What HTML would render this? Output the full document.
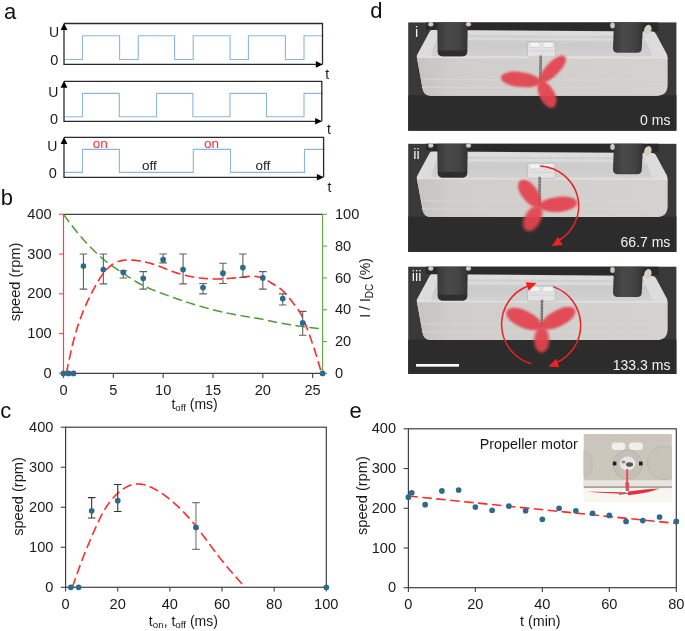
<!DOCTYPE html>
<html><head><meta charset="utf-8"><style>
html,body{margin:0;padding:0;background:#fff;}
svg{display:block;will-change:transform;}
text{font-family:"Liberation Sans",sans-serif;}
</style></head><body>
<svg width="685" height="631" viewBox="0 0 685 631">
<defs><clipPath id="insclip"><rect x="583.5" y="434.1" width="88.4" height="68.4"/></clipPath><linearGradient id="rod" x1="0" y1="0" x2="1" y2="0"><stop offset="0" stop-color="#383838"/><stop offset="0.35" stop-color="#494949"/><stop offset="0.7" stop-color="#444"/><stop offset="1" stop-color="#333"/></linearGradient><linearGradient id="cav" x1="0" y1="0" x2="0" y2="1"><stop offset="0" stop-color="#d0d0d0"/><stop offset="0.5" stop-color="#cbcbcb"/><stop offset="1" stop-color="#d2d2d2"/></linearGradient><linearGradient id="face" x1="0" y1="0" x2="1" y2="0"><stop offset="0" stop-color="#c6c4c0"/><stop offset="0.15" stop-color="#d0cecb"/><stop offset="1" stop-color="#d3d2cf"/></linearGradient><filter id="pblur" x="-20%" y="-20%" width="140%" height="140%"><feGaussianBlur stdDeviation="0.9"/></filter>
<filter id="pblur2" x="-30%" y="-30%" width="160%" height="160%"><feGaussianBlur stdDeviation="1.1"/></filter><filter id="pblur3" x="-30%" y="-30%" width="160%" height="160%"><feGaussianBlur stdDeviation="1.8"/></filter><filter id="soft" x="-5%" y="-5%" width="110%" height="110%"><feGaussianBlur stdDeviation="0.6"/></filter></defs>
<rect width="685" height="631" fill="#fff"/>
<text x="4" y="18.6" font-size="22" text-anchor="start" fill="#111" >a</text>
<text x="0.8" y="204.6" font-size="22" text-anchor="start" fill="#111" >b</text>
<text x="0.2" y="418" font-size="22" text-anchor="start" fill="#111" >c</text>
<text x="370.3" y="18.1" font-size="22" text-anchor="start" fill="#111" >d</text>
<text x="349.5" y="418" font-size="22" text-anchor="start" fill="#111" >e</text>
<path d="M64.50,59.50 L82.50,59.50 L82.50,35.80 L119.60,35.80 L119.60,59.50 L138.30,59.50 L138.30,35.80 L174.60,35.80 L174.60,59.50 L193.20,59.50 L193.20,35.80 L230.10,35.80 L230.10,59.50 L248.40,59.50 L248.40,35.80 L285.40,35.80 L285.40,59.50 L304.00,59.50 L304.00,35.80 L323.30,35.80" fill="none" stroke="#8ab6e0" stroke-width="1.1"/>
<path d="M64,23.5 H322.5 V64.4" fill="none" stroke="#2a2a2a" stroke-width="1.3"/>
<path d="M64,29.5 V64.4 H316.5" fill="none" stroke="#2a2a2a" stroke-width="1.3"/>
<path d="M64,23.0 L67.4,30.0 L60.6,30.0 Z" fill="#000"/>
<path d="M322.8,64.4 L315.8,61.10000000000001 L315.8,67.7 Z" fill="#000"/>
<text x="59.0" y="36.8" font-size="14" text-anchor="end" fill="#1a1a1a" >U</text>
<text x="58.4" y="64.8" font-size="14.5" text-anchor="end" fill="#1a1a1a" >0</text>
<text x="325.3" y="78.8" font-size="14" text-anchor="start" fill="#1a1a1a" >t</text>
<path d="M64.50,116.80 L82.50,116.80 L82.50,93.40 L119.30,93.40 L119.30,116.80 L156.50,116.80 L156.50,93.40 L192.90,93.40 L192.90,116.80 L230.00,116.80 L230.00,93.40 L266.50,93.40 L266.50,116.80 L304.00,116.80 L304.00,93.40 L322.60,93.40" fill="none" stroke="#8ab6e0" stroke-width="1.1"/>
<path d="M64,81.3 H321.8 V121.3" fill="none" stroke="#2a2a2a" stroke-width="1.3"/>
<path d="M64,87.3 V121.3 H315.8" fill="none" stroke="#2a2a2a" stroke-width="1.3"/>
<path d="M64,80.8 L67.4,87.8 L60.6,87.8 Z" fill="#000"/>
<path d="M322.1,121.3 L315.1,118.0 L315.1,124.6 Z" fill="#000"/>
<text x="58.3" y="96.5" font-size="14" text-anchor="end" fill="#1a1a1a" >U</text>
<text x="58.0" y="123.8" font-size="14.5" text-anchor="end" fill="#1a1a1a" >0</text>
<text x="326.9" y="134.0" font-size="14" text-anchor="start" fill="#1a1a1a" >t</text>
<path d="M64.50,172.40 L82.50,172.40 L82.50,149.40 L119.40,149.40 L119.40,172.40 L193.30,172.40 L193.30,149.40 L230.50,149.40 L230.50,172.40 L304.50,172.40 L304.50,149.40 L324.40,149.40" fill="none" stroke="#8ab6e0" stroke-width="1.1"/>
<path d="M64,137.4 H323.6 V177.3" fill="none" stroke="#2a2a2a" stroke-width="1.3"/>
<path d="M64,143.4 V177.3 H317.6" fill="none" stroke="#2a2a2a" stroke-width="1.3"/>
<path d="M64,136.9 L67.4,143.9 L60.6,143.9 Z" fill="#000"/>
<path d="M323.90000000000003,177.3 L316.90000000000003,174.0 L316.90000000000003,180.60000000000002 Z" fill="#000"/>
<text x="57.3" y="150.6" font-size="14" text-anchor="end" fill="#1a1a1a" >U</text>
<text x="56.9" y="178.2" font-size="14.5" text-anchor="end" fill="#1a1a1a" >0</text>
<text x="327.6" y="191.7" font-size="14" text-anchor="start" fill="#1a1a1a" >t</text>
<text x="100.3" y="147.7" font-size="13.5" text-anchor="middle" fill="#ff2a2a" >on</text>
<text x="211.5" y="147.7" font-size="13.5" text-anchor="middle" fill="#ff2a2a" >on</text>
<text x="149.5" y="170" font-size="13.5" text-anchor="middle" fill="#1a1a1a" >off</text>
<text x="263" y="170" font-size="13.5" text-anchor="middle" fill="#1a1a1a" >off</text>
<path d="M63.5,214.3 H322.6" stroke="#404040" stroke-width="1.2" fill="none"/>
<path d="M63.5,373.4 H322.6" stroke="#404040" stroke-width="1.2" fill="none"/>
<path d="M63.50,373.4 V377.9" stroke="#404040" stroke-width="1.1"/>
<text x="63.50" y="394.7" font-size="14.6" text-anchor="middle" fill="#1a1a1a" >0</text>
<path d="M113.33,373.4 V377.9" stroke="#404040" stroke-width="1.1"/>
<text x="113.33" y="394.7" font-size="14.6" text-anchor="middle" fill="#1a1a1a" >5</text>
<path d="M163.15,373.4 V377.9" stroke="#404040" stroke-width="1.1"/>
<text x="163.15" y="394.7" font-size="14.6" text-anchor="middle" fill="#1a1a1a" >10</text>
<path d="M212.98,373.4 V377.9" stroke="#404040" stroke-width="1.1"/>
<text x="212.98" y="394.7" font-size="14.6" text-anchor="middle" fill="#1a1a1a" >15</text>
<path d="M262.81,373.4 V377.9" stroke="#404040" stroke-width="1.1"/>
<text x="262.81" y="394.7" font-size="14.6" text-anchor="middle" fill="#1a1a1a" >20</text>
<path d="M312.63,373.4 V377.9" stroke="#404040" stroke-width="1.1"/>
<text x="312.63" y="394.7" font-size="14.6" text-anchor="middle" fill="#1a1a1a" >25</text>
<path d="M63.5,214.3 V373.4" stroke="#ff4040" stroke-width="1.2" fill="none"/>
<path d="M59.0,373.40 H63.5" stroke="#ff4040" stroke-width="1.1"/>
<text x="51.7" y="378.00" font-size="14.6" text-anchor="end" fill="#1a1a1a" >0</text>
<path d="M59.0,333.62 H63.5" stroke="#ff4040" stroke-width="1.1"/>
<text x="51.7" y="338.23" font-size="14.6" text-anchor="end" fill="#1a1a1a" >100</text>
<path d="M59.0,293.85 H63.5" stroke="#ff4040" stroke-width="1.1"/>
<text x="51.7" y="298.45" font-size="14.6" text-anchor="end" fill="#1a1a1a" >200</text>
<path d="M59.0,254.07 H63.5" stroke="#ff4040" stroke-width="1.1"/>
<text x="51.7" y="258.68" font-size="14.6" text-anchor="end" fill="#1a1a1a" >300</text>
<path d="M59.0,214.30 H63.5" stroke="#ff4040" stroke-width="1.1"/>
<text x="51.7" y="218.90" font-size="14.6" text-anchor="end" fill="#1a1a1a" >400</text>
<path d="M322.6,214.3 V373.4" stroke="#6aa84f" stroke-width="1.2" fill="none"/>
<path d="M322.6,373.40 H327.1" stroke="#6aa84f" stroke-width="1.1"/>
<text x="335.0" y="378.00" font-size="14.6" text-anchor="start" fill="#1a1a1a" >0</text>
<path d="M322.6,341.58 H327.1" stroke="#6aa84f" stroke-width="1.1"/>
<text x="335.0" y="346.18" font-size="14.6" text-anchor="start" fill="#1a1a1a" >20</text>
<path d="M322.6,309.76 H327.1" stroke="#6aa84f" stroke-width="1.1"/>
<text x="335.0" y="314.36" font-size="14.6" text-anchor="start" fill="#1a1a1a" >40</text>
<path d="M322.6,277.94 H327.1" stroke="#6aa84f" stroke-width="1.1"/>
<text x="335.0" y="282.54" font-size="14.6" text-anchor="start" fill="#1a1a1a" >60</text>
<path d="M322.6,246.12 H327.1" stroke="#6aa84f" stroke-width="1.1"/>
<text x="335.0" y="250.72" font-size="14.6" text-anchor="start" fill="#1a1a1a" >80</text>
<path d="M322.6,214.30 H327.1" stroke="#6aa84f" stroke-width="1.1"/>
<text x="335.0" y="218.90" font-size="14.6" text-anchor="start" fill="#1a1a1a" >100</text>
<text transform="translate(19.9,282) rotate(-90)" font-size="14.6" text-anchor="middle" fill="#1a1a1a">speed (rpm)</text>
<text transform="translate(370,287.9) rotate(-90)" font-size="14" text-anchor="middle" fill="#1a1a1a">I / I<tspan font-size="10" dy="3">DC</tspan><tspan dy="-3"> (%)</tspan></text>
<text x="194.6" y="408.8" font-size="14" text-anchor="middle" fill="#1a1a1a">t<tspan font-size="9.6" dy="2.6">off</tspan><tspan dy="-2.6"> (ms)</tspan></text>
<path d="M63.50,214.30 L65.68,217.33 L67.85,220.30 L70.03,223.20 L72.21,226.03 L74.39,228.80 L76.56,231.51 L78.74,234.15 L80.92,236.72 L83.10,239.22 L85.27,241.66 L87.45,244.03 L89.63,246.33 L91.81,248.56 L93.98,250.72 L96.16,252.82 L98.34,254.84 L100.51,256.80 L102.69,258.68 L104.87,260.48 L107.05,262.19 L109.22,263.82 L111.40,265.40 L113.58,266.92 L115.76,268.40 L117.93,269.86 L120.11,271.29 L122.29,272.72 L124.46,274.15 L126.64,275.59 L128.82,277.03 L131.00,278.44 L133.17,279.84 L135.35,281.19 L137.53,282.50 L139.71,283.74 L141.88,284.92 L144.06,286.01 L146.24,287.04 L148.42,288.03 L150.59,288.97 L152.77,289.88 L154.95,290.76 L157.12,291.61 L159.30,292.44 L161.48,293.25 L163.66,294.05 L165.83,294.84 L168.01,295.63 L170.19,296.42 L172.37,297.20 L174.54,297.98 L176.72,298.74 L178.90,299.49 L181.07,300.24 L183.25,300.97 L185.43,301.69 L187.61,302.40 L189.78,303.09 L191.96,303.78 L194.14,304.45 L196.32,305.11 L198.49,305.76 L200.67,306.40 L202.85,307.03 L205.03,307.64 L207.20,308.25 L209.38,308.83 L211.56,309.40 L213.73,309.95 L215.91,310.48 L218.09,310.99 L220.27,311.49 L222.44,311.97 L224.62,312.45 L226.80,312.91 L228.98,313.36 L231.15,313.80 L233.33,314.24 L235.51,314.66 L237.68,315.08 L239.86,315.48 L242.04,315.88 L244.22,316.25 L246.39,316.61 L248.57,316.95 L250.75,317.30 L252.93,317.64 L255.10,317.98 L257.28,318.34 L259.46,318.70 L261.64,319.09 L263.81,319.50 L265.99,319.95 L268.17,320.43 L270.34,320.92 L272.52,321.42 L274.70,321.91 L276.88,322.38 L279.05,322.82 L281.23,323.21 L283.41,323.58 L285.59,323.94 L287.76,324.31 L289.94,324.66 L292.12,325.01 L294.29,325.35 L296.47,325.69 L298.65,326.01 L300.83,326.33 L303.00,326.63 L305.18,326.93 L307.36,327.22 L309.54,327.49 L311.71,327.75 L313.89,328.00 L316.07,328.24 L318.25,328.46 L320.42,328.66 L322.60,328.85" fill="none" stroke="#4f9a36" stroke-width="1.5" stroke-dasharray="9.5 4.5"/>
<path d="M66.30,373.40 L67.58,367.20 L68.86,361.07 L70.14,355.11 L71.43,349.38 L72.71,343.97 L73.99,338.94 L75.27,334.26 L76.55,329.92 L77.83,325.86 L79.11,322.05 L80.40,318.46 L81.68,315.05 L82.96,311.80 L84.24,308.69 L85.52,305.72 L86.80,302.86 L88.08,300.11 L89.37,297.46 L90.65,294.90 L91.93,292.40 L93.21,289.97 L94.49,287.59 L95.77,285.26 L97.05,282.99 L98.34,280.80 L99.62,278.71 L100.90,276.72 L102.18,274.86 L103.46,273.13 L104.74,271.54 L106.02,270.06 L107.31,268.71 L108.59,267.48 L109.87,266.35 L111.15,265.34 L112.43,264.43 L113.71,263.63 L114.99,262.92 L116.27,262.30 L117.56,261.76 L118.84,261.31 L120.12,260.93 L121.40,260.62 L122.68,260.38 L123.96,260.20 L125.24,260.07 L126.53,259.99 L127.81,259.96 L129.09,259.97 L130.37,260.01 L131.65,260.08 L132.93,260.17 L134.21,260.28 L135.50,260.41 L136.78,260.56 L138.06,260.73 L139.34,260.91 L140.62,261.12 L141.90,261.34 L143.18,261.58 L144.47,261.85 L145.75,262.13 L147.03,262.43 L148.31,262.76 L149.59,263.10 L150.87,263.47 L152.15,263.86 L153.44,264.27 L154.72,264.70 L156.00,265.15 L157.28,265.62 L158.56,266.09 L159.84,266.58 L161.12,267.08 L162.41,267.59 L163.69,268.10 L164.97,268.61 L166.25,269.12 L167.53,269.62 L168.81,270.12 L170.09,270.61 L171.38,271.10 L172.66,271.56 L173.94,272.02 L175.22,272.46 L176.50,272.88 L177.78,273.28 L179.06,273.67 L180.35,274.04 L181.63,274.40 L182.91,274.74 L184.19,275.06 L185.47,275.38 L186.75,275.67 L188.03,275.96 L189.32,276.23 L190.60,276.48 L191.88,276.73 L193.16,276.96 L194.44,277.17 L195.72,277.38 L197.00,277.57 L198.28,277.75 L199.57,277.92 L200.85,278.07 L202.13,278.22 L203.41,278.35 L204.69,278.47 L205.97,278.57 L207.25,278.66 L208.54,278.74 L209.82,278.81 L211.10,278.87 L212.38,278.91 L213.66,278.94 L214.94,278.95 L216.22,278.96 L217.51,278.95 L218.79,278.94 L220.07,278.91 L221.35,278.87 L222.63,278.82 L223.91,278.76 L225.19,278.69 L226.48,278.61 L227.76,278.52 L229.04,278.42 L230.32,278.31 L231.60,278.20 L232.88,278.08 L234.16,277.96 L235.45,277.83 L236.73,277.69 L238.01,277.55 L239.29,277.41 L240.57,277.27 L241.85,277.13 L243.13,276.98 L244.42,276.84 L245.70,276.71 L246.98,276.58 L248.26,276.48 L249.54,276.39 L250.82,276.34 L252.10,276.32 L253.39,276.34 L254.67,276.40 L255.95,276.51 L257.23,276.68 L258.51,276.91 L259.79,277.21 L261.07,277.57 L262.36,278.02 L263.64,278.55 L264.92,279.16 L266.20,279.84 L267.48,280.57 L268.76,281.34 L270.04,282.14 L271.33,282.95 L272.61,283.76 L273.89,284.55 L275.17,285.33 L276.45,286.12 L277.73,286.94 L279.01,287.80 L280.29,288.74 L281.58,289.76 L282.86,290.88 L284.14,292.13 L285.42,293.49 L286.70,294.94 L287.98,296.47 L289.26,298.07 L290.55,299.70 L291.83,301.35 L293.11,303.00 L294.39,304.64 L295.67,306.29 L296.95,308.00 L298.23,309.82 L299.52,311.81 L300.80,314.00 L302.08,316.46 L303.36,319.20 L304.64,322.20 L305.92,325.40 L307.20,328.77 L308.49,332.26 L309.77,335.84 L311.05,339.47 L312.33,343.17 L313.61,346.95 L314.89,350.86 L316.17,354.92 L317.46,359.15 L318.74,363.52 L320.02,367.99 L321.30,372.50" fill="none" stroke="#ff2a2a" stroke-width="1.6" stroke-dasharray="9.5 4.5"/>
<path d="M83.43,254.07 V289.08 M79.63,254.07 H87.23 M79.63,289.08 H87.23" stroke="#606060" stroke-width="1.1" fill="none"/>
<path d="M103.36,254.07 V283.91 M99.56,254.07 H107.16 M99.56,283.91 H107.16" stroke="#606060" stroke-width="1.1" fill="none"/>
<path d="M123.29,270.78 V277.94 M119.49,270.78 H127.09 M119.49,277.94 H127.09" stroke="#606060" stroke-width="1.1" fill="none"/>
<path d="M143.22,271.58 V289.08 M139.42,271.58 H147.02 M139.42,289.08 H147.02" stroke="#606060" stroke-width="1.1" fill="none"/>
<path d="M163.15,254.07 V262.83 M159.35,254.07 H166.95 M159.35,262.83 H166.95" stroke="#606060" stroke-width="1.1" fill="none"/>
<path d="M183.08,254.07 V283.91 M179.28,254.07 H186.88 M179.28,283.91 H186.88" stroke="#606060" stroke-width="1.1" fill="none"/>
<path d="M203.02,283.51 V293.85 M199.22,283.51 H206.82 M199.22,293.85 H206.82" stroke="#606060" stroke-width="1.1" fill="none"/>
<path d="M222.95,263.22 V283.51 M219.15,263.22 H226.75 M219.15,283.51 H226.75" stroke="#606060" stroke-width="1.1" fill="none"/>
<path d="M242.88,254.07 V277.54 M239.08,254.07 H246.68 M239.08,277.54 H246.68" stroke="#606060" stroke-width="1.1" fill="none"/>
<path d="M262.81,271.58 V289.08 M259.01,271.58 H266.61 M259.01,289.08 H266.61" stroke="#606060" stroke-width="1.1" fill="none"/>
<path d="M282.74,293.85 V304.99 M278.94,293.85 H286.54 M278.94,304.99 H286.54" stroke="#606060" stroke-width="1.1" fill="none"/>
<path d="M302.67,311.35 V335.22 M298.87,311.35 H306.47 M298.87,335.22 H306.47" stroke="#606060" stroke-width="1.1" fill="none"/>
<circle cx="63.50" cy="373.40" r="2.85" fill="#2d6a8c"/>
<circle cx="68.48" cy="373.40" r="2.85" fill="#2d6a8c"/>
<circle cx="73.47" cy="373.40" r="2.85" fill="#2d6a8c"/>
<circle cx="83.43" cy="266.01" r="2.85" fill="#2d6a8c"/>
<circle cx="103.36" cy="269.59" r="2.85" fill="#2d6a8c"/>
<circle cx="123.29" cy="272.37" r="2.85" fill="#2d6a8c"/>
<circle cx="143.22" cy="278.34" r="2.85" fill="#2d6a8c"/>
<circle cx="163.15" cy="259.64" r="2.85" fill="#2d6a8c"/>
<circle cx="183.08" cy="269.59" r="2.85" fill="#2d6a8c"/>
<circle cx="203.02" cy="287.49" r="2.85" fill="#2d6a8c"/>
<circle cx="222.95" cy="273.17" r="2.85" fill="#2d6a8c"/>
<circle cx="242.88" cy="267.60" r="2.85" fill="#2d6a8c"/>
<circle cx="262.81" cy="277.94" r="2.85" fill="#2d6a8c"/>
<circle cx="282.74" cy="298.62" r="2.85" fill="#2d6a8c"/>
<circle cx="302.67" cy="322.89" r="2.85" fill="#2d6a8c"/>
<circle cx="322.60" cy="373.40" r="2.85" fill="#2d6a8c"/>
<rect x="65.6" y="427.2" width="260.70000000000005" height="160.09999999999997" fill="none" stroke="#404040" stroke-width="1.2"/>
<path d="M65.60,587.3 V591.5999999999999" stroke="#404040" stroke-width="1.1"/>
<text x="65.60" y="609.0" font-size="14.6" text-anchor="middle" fill="#1a1a1a" >0</text>
<path d="M117.74,587.3 V591.5999999999999" stroke="#404040" stroke-width="1.1"/>
<text x="117.74" y="609.0" font-size="14.6" text-anchor="middle" fill="#1a1a1a" >20</text>
<path d="M169.88,587.3 V591.5999999999999" stroke="#404040" stroke-width="1.1"/>
<text x="169.88" y="609.0" font-size="14.6" text-anchor="middle" fill="#1a1a1a" >40</text>
<path d="M222.02,587.3 V591.5999999999999" stroke="#404040" stroke-width="1.1"/>
<text x="222.02" y="609.0" font-size="14.6" text-anchor="middle" fill="#1a1a1a" >60</text>
<path d="M274.16,587.3 V591.5999999999999" stroke="#404040" stroke-width="1.1"/>
<text x="274.16" y="609.0" font-size="14.6" text-anchor="middle" fill="#1a1a1a" >80</text>
<path d="M326.30,587.3 V591.5999999999999" stroke="#404040" stroke-width="1.1"/>
<text x="326.30" y="609.0" font-size="14.6" text-anchor="middle" fill="#1a1a1a" >100</text>
<path d="M60.8,587.30 H65.6" stroke="#404040" stroke-width="1.1"/>
<text x="53.4" y="591.90" font-size="14.6" text-anchor="end" fill="#1a1a1a" >0</text>
<path d="M60.8,547.27 H65.6" stroke="#404040" stroke-width="1.1"/>
<text x="53.4" y="551.88" font-size="14.6" text-anchor="end" fill="#1a1a1a" >100</text>
<path d="M60.8,507.25 H65.6" stroke="#404040" stroke-width="1.1"/>
<text x="53.4" y="511.85" font-size="14.6" text-anchor="end" fill="#1a1a1a" >200</text>
<path d="M60.8,467.22 H65.6" stroke="#404040" stroke-width="1.1"/>
<text x="53.4" y="471.82" font-size="14.6" text-anchor="end" fill="#1a1a1a" >300</text>
<path d="M60.8,427.20 H65.6" stroke="#404040" stroke-width="1.1"/>
<text x="53.4" y="431.80" font-size="14.6" text-anchor="end" fill="#1a1a1a" >400</text>
<text transform="translate(23.3,496.5) rotate(-90)" font-size="14.6" text-anchor="middle" fill="#1a1a1a">speed (rpm)</text>
<text x="183.4" y="625.5" font-size="14" text-anchor="middle" fill="#1a1a1a">t<tspan font-size="9.8" dy="2.7">on</tspan><tspan dy="-2.7">, t</tspan><tspan font-size="9.8" dy="2.7">off</tspan><tspan dy="-2.7"> (ms)</tspan></text>
<path d="M72.38,587.30 L73.53,583.93 L74.69,580.57 L75.85,577.23 L77.00,573.93 L78.16,570.67 L79.32,567.47 L80.47,564.34 L81.63,561.27 L82.79,558.26 L83.94,555.31 L85.10,552.41 L86.26,549.56 L87.41,546.75 L88.57,543.97 L89.73,541.22 L90.88,538.50 L92.04,535.80 L93.20,533.12 L94.35,530.47 L95.51,527.86 L96.67,525.29 L97.82,522.79 L98.98,520.35 L100.13,517.98 L101.29,515.70 L102.45,513.52 L103.60,511.43 L104.76,509.45 L105.92,507.57 L107.07,505.79 L108.23,504.10 L109.39,502.50 L110.54,500.99 L111.70,499.55 L112.86,498.20 L114.01,496.92 L115.17,495.71 L116.33,494.56 L117.48,493.47 L118.64,492.45 L119.80,491.48 L120.95,490.56 L122.11,489.71 L123.27,488.91 L124.42,488.17 L125.58,487.49 L126.74,486.87 L127.89,486.31 L129.05,485.80 L130.20,485.36 L131.36,484.98 L132.52,484.66 L133.67,484.40 L134.83,484.21 L135.99,484.08 L137.14,484.00 L138.30,484.00 L139.46,484.05 L140.61,484.15 L141.77,484.31 L142.93,484.53 L144.08,484.79 L145.24,485.10 L146.40,485.45 L147.55,485.85 L148.71,486.28 L149.87,486.75 L151.02,487.26 L152.18,487.80 L153.34,488.37 L154.49,488.96 L155.65,489.59 L156.80,490.24 L157.96,490.92 L159.12,491.62 L160.27,492.36 L161.43,493.11 L162.59,493.90 L163.74,494.71 L164.90,495.54 L166.06,496.40 L167.21,497.28 L168.37,498.18 L169.53,499.11 L170.68,500.07 L171.84,501.04 L173.00,502.04 L174.15,503.05 L175.31,504.09 L176.47,505.15 L177.62,506.23 L178.78,507.33 L179.94,508.46 L181.09,509.60 L182.25,510.76 L183.40,511.95 L184.56,513.16 L185.72,514.38 L186.87,515.63 L188.03,516.91 L189.19,518.20 L190.34,519.52 L191.50,520.86 L192.66,522.22 L193.81,523.60 L194.97,525.00 L196.13,526.43 L197.28,527.88 L198.44,529.36 L199.60,530.85 L200.75,532.36 L201.91,533.88 L203.07,535.42 L204.22,536.97 L205.38,538.52 L206.54,540.09 L207.69,541.65 L208.85,543.23 L210.01,544.80 L211.16,546.37 L212.32,547.94 L213.47,549.50 L214.63,551.05 L215.79,552.59 L216.94,554.13 L218.10,555.64 L219.26,557.15 L220.41,558.63 L221.57,560.09 L222.73,561.54 L223.88,562.97 L225.04,564.39 L226.20,565.79 L227.35,567.18 L228.51,568.55 L229.67,569.91 L230.82,571.26 L231.98,572.60 L233.14,573.93 L234.29,575.25 L235.45,576.57 L236.61,577.88 L237.76,579.18 L238.92,580.47 L240.07,581.76 L241.23,583.05 L242.39,584.33 L243.54,585.62 L244.70,586.90" fill="none" stroke="#ff2a2a" stroke-width="1.6" stroke-dasharray="9.5 4.5"/>
<path d="M91.67,497.64 V518.06 M87.87,497.64 H95.47 M87.87,518.06 H95.47" stroke="#333" stroke-width="1.1" fill="none"/>
<path d="M117.74,484.44 V511.45 M113.94,484.44 H121.54 M113.94,511.45 H121.54" stroke="#333" stroke-width="1.1" fill="none"/>
<path d="M195.95,502.65 V549.40 M192.15,502.65 H199.75 M192.15,549.40 H199.75" stroke="#777" stroke-width="1.1" fill="none"/>
<circle cx="70.81" cy="587.30" r="2.85" fill="#2d6a8c"/>
<circle cx="78.63" cy="587.30" r="2.85" fill="#2d6a8c"/>
<circle cx="91.67" cy="510.85" r="2.85" fill="#2d6a8c"/>
<circle cx="117.74" cy="500.65" r="2.85" fill="#2d6a8c"/>
<circle cx="195.95" cy="527.46" r="2.85" fill="#2d6a8c"/>
<circle cx="326.30" cy="587.30" r="2.85" fill="#2d6a8c"/>
<rect x="408.4" y="428.8" width="267.9" height="158.90000000000003" fill="none" stroke="#404040" stroke-width="1.2"/>
<path d="M408.40,587.7 V592.0" stroke="#404040" stroke-width="1.1"/>
<text x="408.40" y="608.9000000000001" font-size="14.6" text-anchor="middle" fill="#1a1a1a" >0</text>
<path d="M475.38,587.7 V592.0" stroke="#404040" stroke-width="1.1"/>
<text x="475.38" y="608.9000000000001" font-size="14.6" text-anchor="middle" fill="#1a1a1a" >20</text>
<path d="M542.35,587.7 V592.0" stroke="#404040" stroke-width="1.1"/>
<text x="542.35" y="608.9000000000001" font-size="14.6" text-anchor="middle" fill="#1a1a1a" >40</text>
<path d="M609.32,587.7 V592.0" stroke="#404040" stroke-width="1.1"/>
<text x="609.32" y="608.9000000000001" font-size="14.6" text-anchor="middle" fill="#1a1a1a" >60</text>
<path d="M676.30,587.7 V592.0" stroke="#404040" stroke-width="1.1"/>
<text x="676.30" y="608.9000000000001" font-size="14.6" text-anchor="middle" fill="#1a1a1a" >80</text>
<path d="M403.59999999999997,587.70 H408.4" stroke="#404040" stroke-width="1.1"/>
<text x="396.1" y="592.30" font-size="14.6" text-anchor="end" fill="#1a1a1a" >0</text>
<path d="M403.59999999999997,547.98 H408.4" stroke="#404040" stroke-width="1.1"/>
<text x="396.1" y="552.58" font-size="14.6" text-anchor="end" fill="#1a1a1a" >100</text>
<path d="M403.59999999999997,508.25 H408.4" stroke="#404040" stroke-width="1.1"/>
<text x="396.1" y="512.85" font-size="14.6" text-anchor="end" fill="#1a1a1a" >200</text>
<path d="M403.59999999999997,468.53 H408.4" stroke="#404040" stroke-width="1.1"/>
<text x="396.1" y="473.13" font-size="14.6" text-anchor="end" fill="#1a1a1a" >300</text>
<path d="M403.59999999999997,428.80 H408.4" stroke="#404040" stroke-width="1.1"/>
<text x="396.1" y="433.40" font-size="14.6" text-anchor="end" fill="#1a1a1a" >400</text>
<text transform="translate(366.8,495.6) rotate(-90)" font-size="14.6" text-anchor="middle" fill="#1a1a1a">speed (rpm)</text>
<text x="540.3" y="626.2" font-size="14.3" text-anchor="middle" fill="#1a1a1a" >t (min)</text>
<text x="479.7" y="448.9" font-size="14.35" text-anchor="start" fill="#1a1a1a" >Propeller motor</text>
<path d="M408.4,496 L676.3,523.4" stroke="#ff2a2a" stroke-width="1.6" stroke-dasharray="9.5 4.5" fill="none"/>
<circle cx="408.40" cy="497.13" r="2.85" fill="#2d6a8c"/>
<circle cx="411.75" cy="492.76" r="2.85" fill="#2d6a8c"/>
<circle cx="425.14" cy="504.67" r="2.85" fill="#2d6a8c"/>
<circle cx="441.89" cy="490.97" r="2.85" fill="#2d6a8c"/>
<circle cx="458.63" cy="489.98" r="2.85" fill="#2d6a8c"/>
<circle cx="475.38" cy="507.06" r="2.85" fill="#2d6a8c"/>
<circle cx="492.12" cy="510.24" r="2.85" fill="#2d6a8c"/>
<circle cx="508.86" cy="506.07" r="2.85" fill="#2d6a8c"/>
<circle cx="525.61" cy="510.75" r="2.85" fill="#2d6a8c"/>
<circle cx="542.35" cy="519.37" r="2.85" fill="#2d6a8c"/>
<circle cx="559.09" cy="508.25" r="2.85" fill="#2d6a8c"/>
<circle cx="575.84" cy="510.75" r="2.85" fill="#2d6a8c"/>
<circle cx="592.58" cy="513.26" r="2.85" fill="#2d6a8c"/>
<circle cx="609.32" cy="515.40" r="2.85" fill="#2d6a8c"/>
<circle cx="626.07" cy="521.44" r="2.85" fill="#2d6a8c"/>
<circle cx="642.81" cy="520.56" r="2.85" fill="#2d6a8c"/>
<circle cx="659.56" cy="516.99" r="2.85" fill="#2d6a8c"/>
<circle cx="676.30" cy="521.44" r="2.85" fill="#2d6a8c"/>
<g clip-path="url(#insclip)">
<rect x="583.5" y="434.1" width="88.4" height="68.4" fill="#f8f6f1"/>
<rect x="583.5" y="434.1" width="88.4" height="54" fill="#cbc6bc"/>
<circle cx="579" cy="464" r="13.5" fill="#c8c3b9" stroke="#bcb7ad" stroke-width="1" filter="url(#soft)"/>
<circle cx="664" cy="463" r="16.5" fill="#c8c3b9" stroke="#bcb7ad" stroke-width="1" filter="url(#soft)"/>
<circle cx="627.6" cy="464.5" r="14.5" fill="#c5c0b6" stroke="#b8b3a9" stroke-width="1" filter="url(#soft)"/>
<rect x="611.6" y="442.6" width="13.8" height="7.3" rx="3.6" fill="#f1efea"/>
<rect x="629.1" y="442.6" width="13.9" height="7.3" rx="3.6" fill="#f1efea"/>
<rect x="612.8" y="461.6" width="3.6" height="3.8" fill="#1e1e1e"/>
<rect x="639" y="461.6" width="3.6" height="3.8" fill="#1e1e1e"/>
<ellipse cx="627.6" cy="463.6" rx="8" ry="7" fill="#e6e6e6"/>
<ellipse cx="629.5" cy="464.5" rx="3.5" ry="2.2" fill="#555"/>
<ellipse cx="623.5" cy="462" rx="2" ry="1.6" fill="#8a8a8a"/>
<rect x="583.5" y="480.3" width="88.4" height="6.2" fill="#e8e6e1"/>
<rect x="583.5" y="486.2" width="88.4" height="1.8" fill="#aaa49a"/>
<path d="M627.3,469 L627,486" stroke="#e2505e" stroke-width="2"/>
<path d="M625.3,482.5 L629.2,482.5 L628.8,491 L625.8,491 Z" fill="#e04a58"/>
<path d="M587.5,491.6 Q605,492.2 626,492.2 L626,494 Q605,493.6 587.5,491.6 Z" fill="#e2323f"/>
<path d="M628,491.6 Q645,489 659.5,488.5 Q649,493 628,495.2 Z" fill="#e2323f"/>
<path d="M619,494.5 L628,493.2" stroke="#777" stroke-width="1"/>
</g>
<g transform="translate(408.2,22.4)">
<rect x="0" y="0" width="268.2" height="108.3" fill="#393939"/>
<path d="M18,0 L250,0 L251,8.6 L18,7.2 Z" fill="#292929" filter="url(#soft)"/>
<rect x="0" y="72.8" width="268.2" height="35.5" fill="#2c2c2c"/>
<path d="M24,7.6 L244,9.2 Q246.5,9.4 247.5,11 L258.8,32 Q259.2,33.2 259.2,35 L259.2,63 Q259,73.2 248,73.3 L23,73.3 Q14.8,73 14.2,65 L8.6,34.5 Q8.4,33 9.2,31.8 L21.5,9 Q22.5,7.6 24,7.6 Z" fill="#dcdcdc"/>
<path d="M30,12.5 L236,13.6 L244,33.8 L22.8,34.4 L23.2,30.5 Z" fill="url(#cav)"/>
<path d="M34,14.6 L238,15.8 L239,18.6 L32,17.6 Z" fill="#dcdcdc" opacity="0.85"/>
<path d="M8.6,34.4 L259.2,35.2 L259.2,63 Q259,73.2 248,73.3 L23,73.3 Q14.8,73 14.2,65 Z" fill="url(#face)"/>
<path d="M8.8,34.7 L259.2,35.5" stroke="#e0e0de" stroke-width="1.6"/>
<path d="M13,57 L257.5,57.8" stroke="#d8d6d2" stroke-width="0.8"/>
<path d="M13.5,65 L257.5,65.5" stroke="#d8d6d2" stroke-width="0.8"/>
<path d="M29,0 L59.6,0 L59.1,29 Q59,33.8 54,33.8 L34.5,33.8 Q29.6,33.8 29.5,29 Z" fill="url(#rod)"/>
<path d="M29.5,28 L59.1,28 Q59,33.8 54,33.8 L34.5,33.8 Q29.6,33.8 29.5,28 Z" fill="#2e2e2e" filter="url(#soft)"/>
<ellipse cx="219.8" cy="31.6" rx="15" ry="2.6" fill="#d0d0d0" opacity="0.8" filter="url(#soft)"/>
<path d="M205.8,0 L235,0 L233.5,26 Q233.3,30.4 229,30.4 L210,30.4 Q205,30.4 204.8,26 Z" fill="url(#rod)"/>
<ellipse cx="22.6" cy="1.8" rx="2.6" ry="2.2" fill="#d2cbbb"/>
<ellipse cx="60.3" cy="1.8" rx="2.6" ry="2.2" fill="#d2cbbb"/>
<ellipse cx="204.3" cy="3.2" rx="2.3" ry="3" fill="#cfc9bb"/>
<ellipse cx="239.6" cy="7.2" rx="3.6" ry="5" transform="rotate(20 239.6 7.2)" fill="#d6d0c4"/>
<rect x="119.2" y="19.3" width="28" height="15.3" rx="2" fill="#e2e2e2" stroke="#b4b4b4" stroke-width="0.7"/>
<rect x="120.8" y="19.8" width="11.4" height="5.4" rx="2.7" fill="#f2f2f2" stroke="#bbbbbb" stroke-width="0.5"/>
<rect x="134.2" y="19.8" width="11.4" height="5.4" rx="2.7" fill="#f2f2f2" stroke="#bbbbbb" stroke-width="0.5"/>
<path d="M121,28.5 L146,28.5" stroke="#d0d0d0" stroke-width="0.8"/>
<path d="M132.5,33 L132.2,59.4" stroke="#6a6a6a" stroke-width="2.4"/>
<path d="M132.5,33 L132.2,59.4" stroke="#bdbdbd" stroke-width="0.8" stroke-dasharray="1.5 1.5"/>
<g filter="url(#pblur)"><path d="M0,-1.9 C4.8,-6.0 11.9,-7.5 21.8,-7.5 C33.7,-7.5 39.6,-3.4 39.6,0 C39.6,3.4 33.7,7.5 21.8,7.5 C11.9,7.5 4.8,6.0 0,1.9 Z" transform="translate(132.2,59.4) rotate(-173.6)" fill="#e3424d" fill-opacity="0.93"/></g>
<g filter="url(#pblur)"><path d="M0,-1.6 C4.2,-5.2 10.6,-6.5 19.4,-6.5 C30.1,-6.5 35.4,-2.9 35.4,0 C35.4,2.9 30.1,6.5 19.4,6.5 C10.6,6.5 4.2,5.2 0,1.6 Z" transform="translate(132.2,59.4) rotate(-45.9)" fill="#e3424d" fill-opacity="0.93"/></g>
<g filter="url(#pblur)"><path d="M0,-1.9 C3.4,-6.0 8.6,-7.5 15.7,-7.5 C24.3,-7.5 28.6,-3.4 28.6,0 C28.6,3.4 24.3,7.5 15.7,7.5 C8.6,7.5 3.4,6.0 0,1.9 Z" transform="translate(132.2,59.4) rotate(62.5)" fill="#e3424d" fill-opacity="0.93"/></g>
<text x="8.4" y="15" font-size="14.5" text-anchor="middle" fill="#f4f4f4">i</text>
<text x="262.2" y="103" font-size="14" text-anchor="end" fill="#f4f4f4">0 ms</text>
</g>
<g transform="translate(408.2,143.8)">
<rect x="0" y="0" width="268.2" height="108.1" fill="#393939"/>
<path d="M18,0 L250,0 L251,8.6 L18,7.2 Z" fill="#292929" filter="url(#soft)"/>
<rect x="0" y="72.8" width="268.2" height="35.3" fill="#2c2c2c"/>
<path d="M24,7.6 L244,9.2 Q246.5,9.4 247.5,11 L258.8,32 Q259.2,33.2 259.2,35 L259.2,63 Q259,73.2 248,73.3 L23,73.3 Q14.8,73 14.2,65 L8.6,34.5 Q8.4,33 9.2,31.8 L21.5,9 Q22.5,7.6 24,7.6 Z" fill="#dcdcdc"/>
<path d="M30,12.5 L236,13.6 L244,33.8 L22.8,34.4 L23.2,30.5 Z" fill="url(#cav)"/>
<path d="M34,14.6 L238,15.8 L239,18.6 L32,17.6 Z" fill="#dcdcdc" opacity="0.85"/>
<path d="M8.6,34.4 L259.2,35.2 L259.2,63 Q259,73.2 248,73.3 L23,73.3 Q14.8,73 14.2,65 Z" fill="url(#face)"/>
<path d="M8.8,34.7 L259.2,35.5" stroke="#e0e0de" stroke-width="1.6"/>
<path d="M13,57 L257.5,57.8" stroke="#d8d6d2" stroke-width="0.8"/>
<path d="M13.5,65 L257.5,65.5" stroke="#d8d6d2" stroke-width="0.8"/>
<path d="M29,0 L59.6,0 L59.1,29 Q59,33.8 54,33.8 L34.5,33.8 Q29.6,33.8 29.5,29 Z" fill="url(#rod)"/>
<path d="M29.5,28 L59.1,28 Q59,33.8 54,33.8 L34.5,33.8 Q29.6,33.8 29.5,28 Z" fill="#2e2e2e" filter="url(#soft)"/>
<ellipse cx="219.8" cy="31.6" rx="15" ry="2.6" fill="#d0d0d0" opacity="0.8" filter="url(#soft)"/>
<path d="M205.8,0 L235,0 L233.5,26 Q233.3,30.4 229,30.4 L210,30.4 Q205,30.4 204.8,26 Z" fill="url(#rod)"/>
<ellipse cx="22.6" cy="1.8" rx="2.6" ry="2.2" fill="#d2cbbb"/>
<ellipse cx="60.3" cy="1.8" rx="2.6" ry="2.2" fill="#d2cbbb"/>
<ellipse cx="204.3" cy="3.2" rx="2.3" ry="3" fill="#cfc9bb"/>
<ellipse cx="239.6" cy="7.2" rx="3.6" ry="5" transform="rotate(20 239.6 7.2)" fill="#d6d0c4"/>
<rect x="119.2" y="19.3" width="28" height="15.3" rx="2" fill="#e2e2e2" stroke="#b4b4b4" stroke-width="0.7"/>
<rect x="120.8" y="19.8" width="11.4" height="5.4" rx="2.7" fill="#f2f2f2" stroke="#bbbbbb" stroke-width="0.5"/>
<rect x="134.2" y="19.8" width="11.4" height="5.4" rx="2.7" fill="#f2f2f2" stroke="#bbbbbb" stroke-width="0.5"/>
<path d="M121,28.5 L146,28.5" stroke="#d0d0d0" stroke-width="0.8"/>
<path d="M131.5,33 L131.2,62.3" stroke="#6a6a6a" stroke-width="2.4"/>
<path d="M131.5,33 L131.2,62.3" stroke="#bdbdbd" stroke-width="0.8" stroke-dasharray="1.5 1.5"/>
<g filter="url(#pblur2)"><path d="M0,-2.0 C3.8,-6.4 9.6,-8.0 17.5,-8.0 C27.1,-8.0 31.9,-3.6 31.9,0 C31.9,3.6 27.1,8.0 17.5,8.0 C9.6,8.0 3.8,6.4 0,2.0 Z" transform="translate(131.2,62.3) rotate(-127.2)" fill="#e3424d" fill-opacity="0.93"/></g>
<g filter="url(#pblur2)"><path d="M0,-1.9 C4.5,-6.0 11.4,-7.5 20.8,-7.5 C32.2,-7.5 37.9,-3.4 37.9,0 C37.9,3.4 32.2,7.5 20.8,7.5 C11.4,7.5 4.5,6.0 0,1.9 Z" transform="translate(131.2,62.3) rotate(-5.3)" fill="#e3424d" fill-opacity="0.93"/></g>
<g filter="url(#pblur3)"><path d="M0,-2.0 C3.3,-6.4 8.3,-8.0 15.3,-8.0 C23.6,-8.0 27.8,-3.6 27.8,0 C27.8,3.6 23.6,8.0 15.3,8.0 C8.3,8.0 3.3,6.4 0,2.0 Z" transform="translate(131.2,62.3) rotate(118.1)" fill="#e3424d" fill-opacity="0.93"/></g>
<text x="8.4" y="15" font-size="14.5" text-anchor="middle" fill="#f4f4f4">ii</text>
<text x="262.2" y="103" font-size="14" text-anchor="end" fill="#f4f4f4">66.7 ms</text>
</g>
<g transform="translate(408.2,266.7)">
<rect x="0" y="0" width="268.2" height="107.2" fill="#393939"/>
<path d="M18,0 L250,0 L251,8.6 L18,7.2 Z" fill="#292929" filter="url(#soft)"/>
<rect x="0" y="72.8" width="268.2" height="34.4" fill="#2c2c2c"/>
<path d="M24,7.6 L244,9.2 Q246.5,9.4 247.5,11 L258.8,32 Q259.2,33.2 259.2,35 L259.2,63 Q259,73.2 248,73.3 L23,73.3 Q14.8,73 14.2,65 L8.6,34.5 Q8.4,33 9.2,31.8 L21.5,9 Q22.5,7.6 24,7.6 Z" fill="#dcdcdc"/>
<path d="M30,12.5 L236,13.6 L244,33.8 L22.8,34.4 L23.2,30.5 Z" fill="url(#cav)"/>
<path d="M34,14.6 L238,15.8 L239,18.6 L32,17.6 Z" fill="#dcdcdc" opacity="0.85"/>
<path d="M8.6,34.4 L259.2,35.2 L259.2,63 Q259,73.2 248,73.3 L23,73.3 Q14.8,73 14.2,65 Z" fill="url(#face)"/>
<path d="M8.8,34.7 L259.2,35.5" stroke="#e0e0de" stroke-width="1.6"/>
<path d="M13,57 L257.5,57.8" stroke="#d8d6d2" stroke-width="0.8"/>
<path d="M13.5,65 L257.5,65.5" stroke="#d8d6d2" stroke-width="0.8"/>
<path d="M29,0 L59.6,0 L59.1,29 Q59,33.8 54,33.8 L34.5,33.8 Q29.6,33.8 29.5,29 Z" fill="url(#rod)"/>
<path d="M29.5,28 L59.1,28 Q59,33.8 54,33.8 L34.5,33.8 Q29.6,33.8 29.5,28 Z" fill="#2e2e2e" filter="url(#soft)"/>
<ellipse cx="219.8" cy="31.6" rx="15" ry="2.6" fill="#d0d0d0" opacity="0.8" filter="url(#soft)"/>
<path d="M205.8,0 L235,0 L233.5,26 Q233.3,30.4 229,30.4 L210,30.4 Q205,30.4 204.8,26 Z" fill="url(#rod)"/>
<ellipse cx="22.6" cy="1.8" rx="2.6" ry="2.2" fill="#d2cbbb"/>
<ellipse cx="60.3" cy="1.8" rx="2.6" ry="2.2" fill="#d2cbbb"/>
<ellipse cx="204.3" cy="3.2" rx="2.3" ry="3" fill="#cfc9bb"/>
<ellipse cx="239.6" cy="7.2" rx="3.6" ry="5" transform="rotate(20 239.6 7.2)" fill="#d6d0c4"/>
<rect x="119.2" y="19.3" width="28" height="15.3" rx="2" fill="#e2e2e2" stroke="#b4b4b4" stroke-width="0.7"/>
<rect x="120.8" y="19.8" width="11.4" height="5.4" rx="2.7" fill="#f2f2f2" stroke="#bbbbbb" stroke-width="0.5"/>
<rect x="134.2" y="19.8" width="11.4" height="5.4" rx="2.7" fill="#f2f2f2" stroke="#bbbbbb" stroke-width="0.5"/>
<path d="M121,28.5 L146,28.5" stroke="#d0d0d0" stroke-width="0.8"/>
<path d="M133.8,33 L133.5,60.3" stroke="#6a6a6a" stroke-width="2.4"/>
<path d="M133.8,33 L133.5,60.3" stroke="#bdbdbd" stroke-width="0.8" stroke-dasharray="1.5 1.5"/>
<g filter="url(#pblur2)"><path d="M0,-2.1 C4.6,-6.8 11.5,-8.5 21.1,-8.5 C32.7,-8.5 38.5,-3.8 38.5,0 C38.5,3.8 32.7,8.5 21.1,8.5 C11.5,8.5 4.6,6.8 0,2.1 Z" transform="translate(133.5,60.3) rotate(-155.9)" fill="#e3424d" fill-opacity="0.93"/></g>
<g filter="url(#pblur2)"><path d="M0,-2.0 C4.5,-6.4 11.3,-8.0 20.7,-8.0 C32.0,-8.0 37.6,-3.6 37.6,0 C37.6,3.6 32.0,8.0 20.7,8.0 C11.3,8.0 4.5,6.4 0,2.0 Z" transform="translate(133.5,60.3) rotate(-27.7)" fill="#e3424d" fill-opacity="0.93"/></g>
<g filter="url(#pblur3)"><path d="M0,-1.9 C3.0,-6.0 7.6,-7.5 14.0,-7.5 C21.6,-7.5 25.4,-3.4 25.4,0 C25.4,3.4 21.6,7.5 14.0,7.5 C7.6,7.5 3.0,6.0 0,1.9 Z" transform="translate(133.5,60.3) rotate(90.0)" fill="#e3424d" fill-opacity="0.93"/></g>
<text x="8.4" y="14" font-size="14.5" text-anchor="middle" fill="#f4f4f4">iii</text>
<text x="262.2" y="103" font-size="14" text-anchor="end" fill="#f4f4f4">133.3 ms</text>
</g>
<path d="M540.3,166.1 A41,40 0 0 1 558.5,240.5" fill="none" stroke="#ee2222" stroke-width="1.5"/>
<path d="M551.7,246.0 L558.1,237.1 L562.6,244.9 Z" fill="#ee2222"/>
<path d="M531.2,363.7 A41,41 0 0 1 528,286" fill="none" stroke="#ee2222" stroke-width="1.5"/>
<path d="M536.6,283.1 L528.7,290.7 L525.7,282.3 Z" fill="#ee2222"/>
<path d="M553.1,286.6 A41,41 0 0 1 557,362.5" fill="none" stroke="#ee2222" stroke-width="1.5"/>
<path d="M548.4,366.4 L556.3,358.8 L559.3,367.2 Z" fill="#ee2222"/>
<rect x="416" y="364" width="43" height="2.7" fill="#fafafa"/>
</svg>
</body></html>
